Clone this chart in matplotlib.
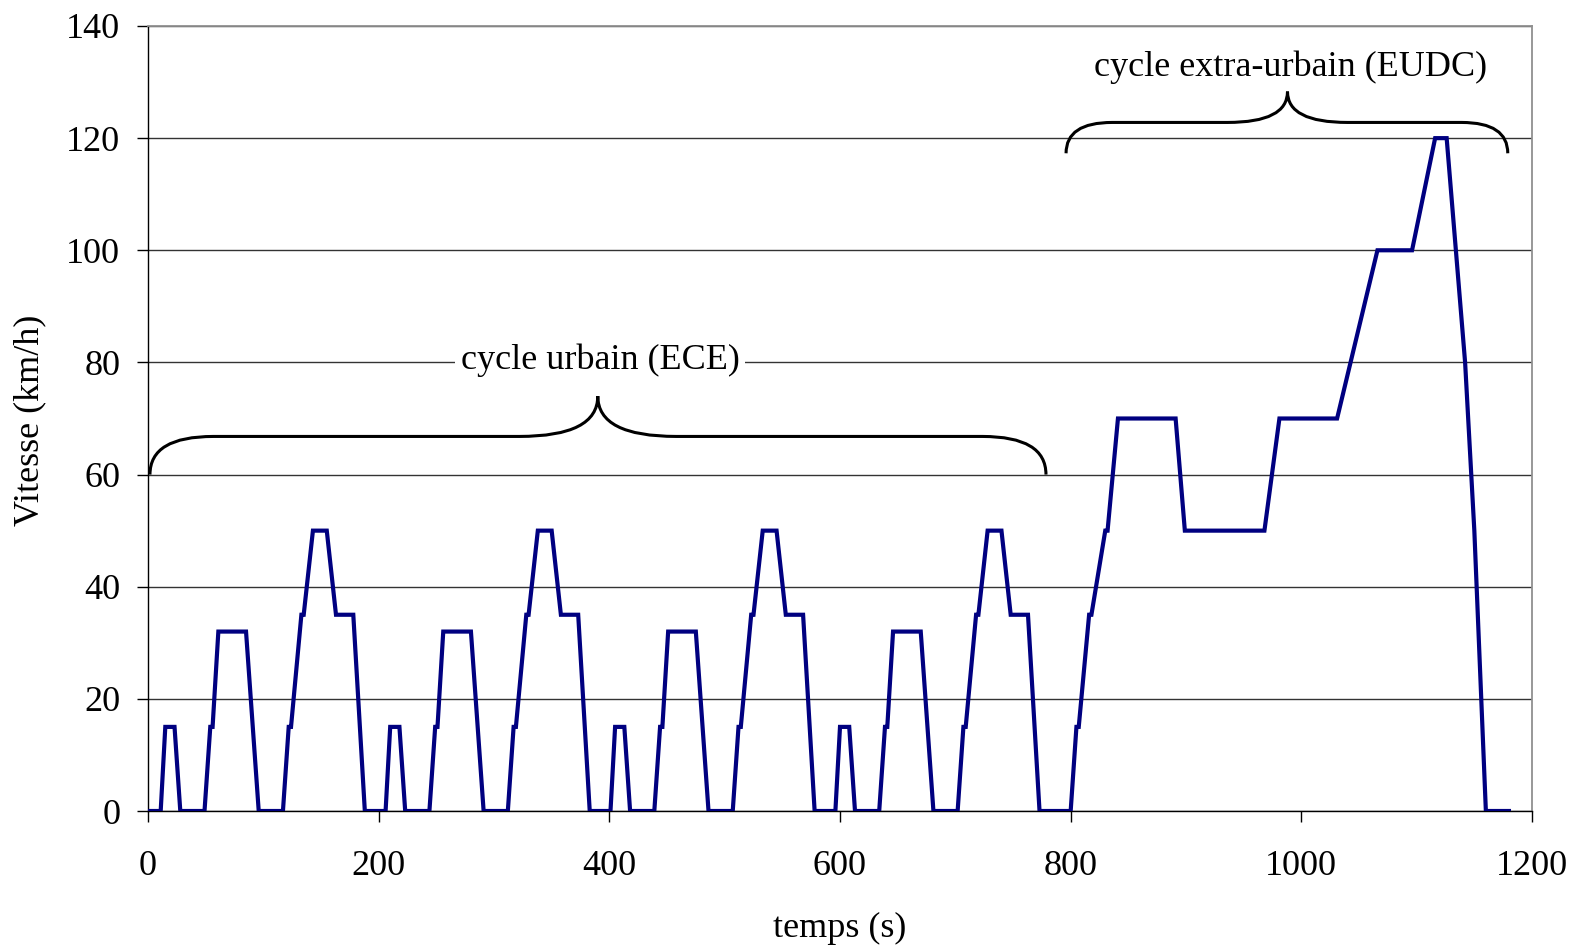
import matplotlib
matplotlib.use("Agg")
import matplotlib.pyplot as plt
from matplotlib.path import Path
from matplotlib.patches import PathPatch

plt.rcParams['font.family'] = ['Liberation Serif', 'DejaVu Serif']

temps = [0, 11, 15, 23, 28, 49, 54, 56, 61, 85, 96, 117, 122, 124, 133, 135, 143, 155, 163, 178, 188, 195,
         206, 210, 218, 223, 244, 249, 251, 256, 280, 291, 312, 317, 319, 328, 330, 338, 350, 358, 373, 383, 390,
         401, 405, 413, 418, 439, 444, 446, 451, 475, 486, 507, 512, 514, 523, 525, 533, 545, 553, 568, 578, 585,
         596, 600, 608, 613, 634, 639, 641, 646, 670, 681, 702, 707, 709, 718, 720, 728, 740, 748, 763, 773, 780,
         800, 805, 807, 816, 818, 830, 832, 841, 891, 899, 968, 981, 1031, 1066, 1096, 1116, 1126, 1142, 1150, 1160, 1180]
vitesse = [0, 0, 15, 15, 0, 0, 15, 15, 32, 32, 0, 0, 15, 15, 35, 35, 50, 50, 35, 35, 0, 0,
           0, 15, 15, 0, 0, 15, 15, 32, 32, 0, 0, 15, 15, 35, 35, 50, 50, 35, 35, 0, 0,
           0, 15, 15, 0, 0, 15, 15, 32, 32, 0, 0, 15, 15, 35, 35, 50, 50, 35, 35, 0, 0,
           0, 15, 15, 0, 0, 15, 15, 32, 32, 0, 0, 15, 15, 35, 35, 50, 50, 35, 35, 0, 0,
           0, 15, 15, 35, 35, 50, 50, 70, 70, 50, 50, 70, 70, 100, 100, 120, 120, 80, 50, 0, 0]

x_ticks = [0, 200, 400, 600, 800, 1000, 1200]
y_ticks = [0, 20, 40, 60, 80, 100, 120, 140]
label_ece = "cycle urbain (ECE)"
label_eudc = "cycle extra-urbain (EUDC)"

fig = plt.figure(figsize=(15.7, 9.48), dpi=100)
ax = fig.add_axes([148/1570, 1-811/948, (1532-148)/1570, (811-26)/948])

ax.plot(temps, vitesse, color='#000080', lw=3.0, solid_joinstyle='miter', zorder=3)
ax.set_xlim(0, 1200)
ax.set_ylim(0, 140)
ax.set_xticks(x_ticks)
ax.set_yticks(y_ticks)
ax.yaxis.grid(True, color='#333333', lw=1.0)
ax.set_axisbelow(True)
for s in ['top', 'right']:
    ax.spines[s].set_color('#909090')
    ax.spines[s].set_linewidth(1.3)
for s in ['left', 'bottom']:
    ax.spines[s].set_color('black')
    ax.spines[s].set_linewidth(1.0)
ax.tick_params(axis='both', direction='out', length=8, width=1, labelsize=26)
ax.tick_params(axis='x', pad=20, colors='black')
ax.tick_params(axis='y', pad=12)

def brace(x0, x1, ybase, yh, xm, ytip, rx, w):
    verts = [(x0, ybase), (x0, yh), (x0 + rx, yh),
             (xm - w, yh), (xm, yh), (xm, ytip),
             (xm, yh), (xm + w, yh),
             (x1 - rx, yh), (x1, yh), (x1, ybase)]
    codes = [Path.MOVETO, Path.CURVE3, Path.CURVE3,
             Path.LINETO, Path.CURVE3, Path.CURVE3,
             Path.CURVE3, Path.CURVE3,
             Path.LINETO, Path.CURVE3, Path.CURVE3]
    ax.add_patch(PathPatch(Path(verts, codes), fill=False, lw=2.2, color='black', zorder=4))

brace(1.7, 778.6, 60, 66.8, 390, 74.0, 55, 68)
brace(796, 1179, 117.3, 122.8, 988, 128.3, 40, 52)

ax.text(392, 80.3, label_ece, fontsize=26, ha='center', va='center',
        bbox=dict(facecolor='white', edgecolor='none', pad=4), zorder=5)
ax.text(991, 132.7, label_eudc, fontsize=26, ha='center', va='center', zorder=5)

fig.text(840/1570, 1-928/948, "temps (s)", fontsize=26, ha='center', va='center')
fig.text(30/1570, 1-420/948, "Vitesse (km/h)", fontsize=26, ha='center', va='center', rotation=90)

fig.savefig("out.png", dpi=100)
